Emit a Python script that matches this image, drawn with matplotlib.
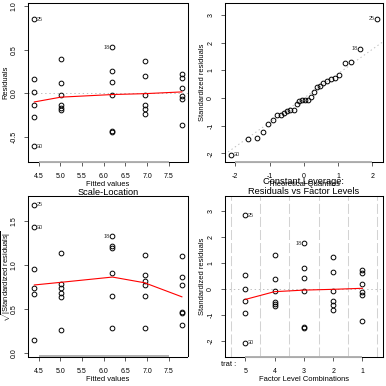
import matplotlib
matplotlib.use("Agg")
import matplotlib.pyplot as plt
import numpy as np
from matplotlib.transforms import offset_copy, blended_transform_factory

plt.rcParams["font.family"] = "Liberation Sans"
plt.rcParams["mathtext.fontset"] = "custom"
plt.rcParams["mathtext.rm"] = "Liberation Sans"
plt.rcParams["mathtext.it"] = "Liberation Sans:italic"
plt.rcParams["axes.unicode_minus"] = False
plt.rcParams["lines.scale_dashes"] = False

# ---- values: lm(y ~ trat), 5 groups x 6 obs ----
fitted = [4.40, 5.01, 6.20, 6.94, 7.80]
trat_levels = ["5", "4", "3", "2", "1"]

residuals = [
    [0.85, 0.16, 0.01, -0.14, -0.27, -0.61],
    [0.39, 0.12, -0.02, -0.14, -0.17, -0.19],
    [0.53, 0.25, 0.13, -0.02, -0.43, -0.44],
    [0.37, 0.20, -0.02, -0.13, -0.18, -0.24],
    [0.22, 0.18, 0.06, -0.03, -0.07, -0.36],
]
std_resid = [
    [2.86, 0.54, 0.02, -0.45, -0.92, -2.05],
    [1.31, 0.41, -0.07, -0.47, -0.55, -0.63],
    [1.77, 0.82, 0.43, -0.08, -1.44, -1.48],
    [1.25, 0.67, -0.08, -0.43, -0.61, -0.80],
    [0.74, 0.61, 0.21, -0.10, -0.22, -1.21],
]
sqrt_std_resid = [
    [1.69, 0.74, 0.15, 0.67, 0.96, 1.43],
    [1.14, 0.64, 0.26, 0.68, 0.74, 0.79],
    [1.33, 0.91, 0.65, 0.28, 1.20, 1.22],
    [1.12, 0.82, 0.28, 0.65, 0.78, 0.89],
    [0.86, 0.78, 0.45, 0.32, 0.47, 1.10],
]
qq_theoretical = [-2.13, -1.64, -1.38, -1.19, -1.04, -0.90, -0.78, -0.67, -0.57, -0.48,
                  -0.39, -0.30, -0.21, -0.13, -0.04, 0.04, 0.13, 0.21, 0.30, 0.39,
                  0.48, 0.57, 0.67, 0.78, 0.90, 1.04, 1.19, 1.38, 1.64, 2.13]

# red smoother values at each distinct x
smooth_resid = [-0.10, -0.045, -0.015, -0.005, 0.015]
smooth_scale = [0.775, 0.805, 0.865, 0.80, 0.64]
smooth_levels = [-0.39, -0.09, -0.03, 0.0, 0.04]

# labelled observations: (label, group index, member index)
flagged = [("25", 0, 0), ("30", 0, 5), ("18", 2, 0)]

W = H = 386
TITLE, LAB, TICK, PTLAB = 6.7, 5.4, 5.0, 4.0
MK = dict(marker="o", ls="none", ms=3.4, mfc="none", mec="black", mew=0.7)

fig = plt.figure(figsize=(W / 100, H / 100), dpi=100)


def add_panel(x0, y0, x1, y1):
    ax = fig.add_axes([x0 / W, 1 - y1 / H, (x1 - x0) / W, (y1 - y0) / H])
    for s in ax.spines.values():
        s.set_linewidth(0.75)
        s.set_color("black")
    ax.tick_params(direction="out", length=2.6, width=0.6, color="#444444",
                   labelbottom=False, labelleft=False)
    return ax


def px_text(ax, xf, yf, dx, dy, s, **kw):
    tr = offset_copy(ax.transAxes, fig=fig, x=dx, y=dy, units="dots")
    ax.text(xf, yf, s, transform=tr, clip_on=False, **kw)


def axes_text(ax, xticks, xlabels, yticks, ylabels, xlabel, ylabel):
    ax.set_xticks(xticks)
    ax.set_yticks(yticks)
    bx = blended_transform_factory(ax.transData, ax.transAxes)
    by = blended_transform_factory(ax.transAxes, ax.transData)
    for t, s in zip(xticks, xlabels):
        tr = offset_copy(bx, fig=fig, x=0, y=-14.7, units="dots")
        ax.text(t, 0, s, transform=tr, ha="center", va="center", size=TICK)
    for t, s in zip(yticks, ylabels):
        tr = offset_copy(by, fig=fig, x=-14, y=0, units="dots")
        ax.text(0, t, s, transform=tr, ha="center", va="center", size=TICK, rotation=90)
    px_text(ax, 0.5, 0, 0, -22.8, xlabel, ha="center", va="center", size=LAB)
    px_text(ax, 0, 0.5, -22.5, 0, ylabel, ha="center", va="center", size=LAB, rotation=90)
    # R draws the bottom axis line in grey between the outer ticks
    y0 = ax.get_ylim()[0]
    ax.plot([xticks[0], xticks[-1]], [y0, y0], color="#b0b0b0", lw=1.4,
            clip_on=False, zorder=5, solid_capstyle="butt")


def label_points(ax, xs, ys, sides):
    for (lab, g, m), side in zip(flagged, sides):
        dx = 2.4 if side == "r" else -2.4
        tr = offset_copy(ax.transData, fig=fig, x=dx, y=0, units="dots")
        ax.text(xs[g], ys[g][m], lab, transform=tr, size=PTLAB, color="#333333",
                ha="left" if side == "r" else "right", va="center")


# ─── Residuals vs Fitted ───────────────────────────────────────────────
ax = add_panel(28.3, 3.3, 187.5, 162)
ax.set_xlim(4.26, 7.93)
ax.set_ylim(-0.79, 1.033)
ax.axhline(0, color="#bebebe", lw=0.7, ls=(0, (1, 2)))
for g, fv in enumerate(fitted):
    ax.plot([fv] * len(residuals[g]), residuals[g], **MK)
ax.plot(fitted, smooth_resid, color="red", lw=0.8)
label_points(ax, fitted, residuals, ["r", "r", "l"])
axes_text(ax, [4.5, 5.0, 5.5, 6.0, 6.5, 7.0, 7.5],
          ["4.5", "5.0", "5.5", "6.0", "6.5", "7.0", "7.5"],
          [-0.5, 0.0, 0.5, 1.0], ["-0.5", "0.0", "0.5", "1.0"],
          "Fitted values", "Residuals")

# ─── Normal Q-Q ────────────────────────────────────────────────────────
ax = add_panel(224.7, 3.3, 383, 162)
ax.set_xlim(-2.31, 2.31)
ax.set_ylim(-2.31, 3.42)
rs_sorted = np.sort(np.concatenate(std_resid))
q1, q3 = np.quantile(rs_sorted, [0.25, 0.75])
slope = (q3 - q1) / (2 * 0.6745)
ax.axline((0, q1 + slope * 0.6745), slope=slope, color="#bebebe", lw=0.7, ls=(0, (1, 2)))
ax.plot(qq_theoretical, rs_sorted, **MK)
qq_pos = {"25": (29, "l"), "18": (28, "l"), "30": (0, "r")}
for lab, (i, side) in qq_pos.items():
    dx = 2.4 if side == "r" else -2.4
    tr = offset_copy(ax.transData, fig=fig, x=dx, y=0, units="dots")
    ax.text(qq_theoretical[i], rs_sorted[i], lab, transform=tr, size=PTLAB, color="#333333",
            ha="left" if side == "r" else "right", va="center")
axes_text(ax, [-2, -1, 0, 1, 2], ["-2", "-1", "0", "1", "2"],
          [-2, -1, 0, 1, 2, 3], ["-2", "-1", "0", "1", "2", "3"],
          "Theoretical Quantiles", "Standardized residuals")

# ─── Scale-Location ────────────────────────────────────────────────────
ax = add_panel(28.3, 196.3, 187.5, 356.5)
ax.set_xlim(4.26, 7.93)
ax.set_ylim(-0.04, 1.785)
for g, fv in enumerate(fitted):
    ax.plot([fv] * len(sqrt_std_resid[g]), sqrt_std_resid[g], **MK)
ax.plot(fitted, smooth_scale, color="red", lw=0.8)
label_points(ax, fitted, sqrt_std_resid, ["r", "r", "l"])
axes_text(ax, [4.5, 5.0, 5.5, 6.0, 6.5, 7.0, 7.5],
          ["4.5", "5.0", "5.5", "6.0", "6.5", "7.0", "7.5"],
          [0.0, 0.5, 1.0, 1.5], ["0.0", "0.5", "1.0", "1.5"],
          "Fitted values", r"$\sqrt{|\mathrm{Standardized\ residuals}|}$")
px_text(ax, 0.5, 1, 0, 4.2, "Scale-Location", ha="center", va="center", size=TITLE)

# ─── Constant Leverage: Residuals vs Factor Levels ─────────────────────
ax = add_panel(224.7, 196.3, 383, 356.5)
pos = np.arange(1, len(trat_levels) + 1)
ax.set_xlim(0.3, 5.7)
ax.set_ylim(-2.585, 3.58)
for v in np.arange(0.5, len(trat_levels) + 1, 1.0):
    ax.axvline(v, color="#d3d3d3", lw=0.75, ls=(0, (7.2, 2.2)))
ax.axhline(0, color="#bebebe", lw=0.7, ls=(0, (1, 2)))
for g, p in enumerate(pos):
    ax.plot([p] * len(std_resid[g]), std_resid[g], **MK)
ax.plot(pos, smooth_levels, color="red", lw=0.8)
label_points(ax, pos, std_resid, ["r", "r", "l"])
axes_text(ax, list(pos), trat_levels,
          [-2, -1, 0, 1, 2, 3], ["-2", "-1", "0", "1", "2", "3"],
          "Factor Level Combinations", "Standardized residuals")
px_text(ax, 0, 0, 11.5, -8.5, "trat :", ha="right", va="center", size=LAB)
px_text(ax, 0.5, 1, 0, 9.8, "Constant Leverage:\nResiduals vs Factor Levels",
        ha="center", va="center", size=TITLE, linespacing=1.15)

fig.savefig("out.png", dpi=100)
